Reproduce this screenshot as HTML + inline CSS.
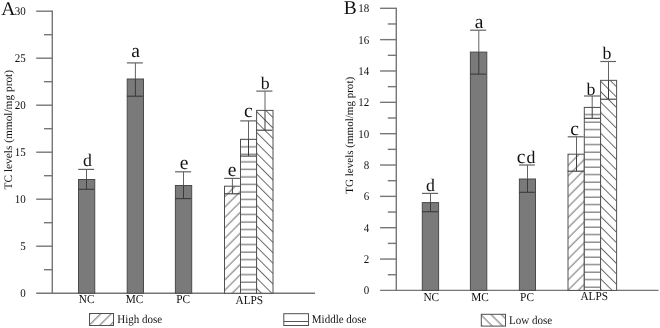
<!DOCTYPE html><html><head><meta charset="utf-8"><style>
html,body{margin:0;padding:0;background:#fff;width:660px;height:328px;overflow:hidden}
svg{display:block;will-change:transform}
text{font-family:"Liberation Serif", serif;fill:#111;text-rendering:geometricPrecision}
</style></head><body>
<svg width="660" height="328" viewBox="0 0 660 328">
<defs>
<pattern id="fwd" patternUnits="userSpaceOnUse" width="7.354" height="20" patternTransform="rotate(45)">
<line x1="3.82" y1="0" x2="3.82" y2="20" stroke="#555" stroke-width="0.9"/></pattern>
<pattern id="bwd" patternUnits="userSpaceOnUse" width="7.354" height="20" patternTransform="rotate(-45)">
<line x1="6.93" y1="0" x2="6.93" y2="20" stroke="#555" stroke-width="0.9"/><line x1="-0.424" y1="0" x2="-0.424" y2="20" stroke="#555" stroke-width="0.9"/></pattern>
<pattern id="horA" patternUnits="userSpaceOnUse" width="20" height="7.52">
<line x1="0" y1="3.92" x2="20" y2="3.92" stroke="#555" stroke-width="1"/></pattern>
<pattern id="horB" patternUnits="userSpaceOnUse" width="20" height="7.5">
<line x1="0" y1="2.1" x2="20" y2="2.1" stroke="#555" stroke-width="1"/></pattern>
<pattern id="fwdL" patternUnits="userSpaceOnUse" width="7.425" height="20" patternTransform="rotate(45)">
<line x1="3.53" y1="0" x2="3.53" y2="20" stroke="#555" stroke-width="0.9"/></pattern>
<pattern id="bwdL" patternUnits="userSpaceOnUse" width="7.283" height="20" patternTransform="rotate(-45)">
<line x1="0.99" y1="0" x2="0.99" y2="20" stroke="#555" stroke-width="0.9"/></pattern>
</defs>
<rect width="660" height="328" fill="#fff"/>

<line x1="52.3" y1="10.6" x2="52.3" y2="293.2" stroke="#767676" stroke-width="1.4"/>
<line x1="36.2" y1="293.2" x2="315" y2="293.2" stroke="#767676" stroke-width="1.4"/>
<text transform="translate(25.8,297.10) scale(1,1.07)" text-anchor="end" font-size="11">0</text>
<line x1="44" y1="269.70" x2="52.3" y2="269.70" stroke="#767676" stroke-width="1.4"/>
<line x1="36.2" y1="246.20" x2="52.3" y2="246.20" stroke="#767676" stroke-width="1.4"/>
<text transform="translate(25.8,250.10) scale(1,1.07)" text-anchor="end" font-size="11">5</text>
<line x1="44" y1="222.70" x2="52.3" y2="222.70" stroke="#767676" stroke-width="1.4"/>
<line x1="36.2" y1="199.20" x2="52.3" y2="199.20" stroke="#767676" stroke-width="1.4"/>
<text transform="translate(25.8,203.10) scale(1,1.07)" text-anchor="end" font-size="11">10</text>
<line x1="44" y1="175.70" x2="52.3" y2="175.70" stroke="#767676" stroke-width="1.4"/>
<line x1="36.2" y1="152.20" x2="52.3" y2="152.20" stroke="#767676" stroke-width="1.4"/>
<text transform="translate(25.8,156.10) scale(1,1.07)" text-anchor="end" font-size="11">15</text>
<line x1="44" y1="128.70" x2="52.3" y2="128.70" stroke="#767676" stroke-width="1.4"/>
<line x1="36.2" y1="105.20" x2="52.3" y2="105.20" stroke="#767676" stroke-width="1.4"/>
<text transform="translate(25.8,109.10) scale(1,1.07)" text-anchor="end" font-size="11">20</text>
<line x1="44" y1="81.70" x2="52.3" y2="81.70" stroke="#767676" stroke-width="1.4"/>
<line x1="36.2" y1="58.20" x2="52.3" y2="58.20" stroke="#767676" stroke-width="1.4"/>
<text transform="translate(25.8,62.10) scale(1,1.07)" text-anchor="end" font-size="11">25</text>
<line x1="44" y1="34.70" x2="52.3" y2="34.70" stroke="#767676" stroke-width="1.4"/>
<line x1="36.2" y1="11.20" x2="52.3" y2="11.20" stroke="#767676" stroke-width="1.4"/>
<text transform="translate(25.8,15.10) scale(1,1.07)" text-anchor="end" font-size="11">30</text>
<text transform="translate(11.8,129.7) rotate(-90)" text-anchor="middle" font-size="11.35">TC levels (mmol/mg prot)</text>
<text x="1.2" y="15.2" font-size="19.5">A</text>
<line x1="396.3" y1="7.700000000000001" x2="396.3" y2="290.4" stroke="#767676" stroke-width="1.4"/>
<line x1="380.1" y1="290.4" x2="658.5" y2="290.4" stroke="#767676" stroke-width="1.4"/>
<text transform="translate(369.3,294.30) scale(1,1.07)" text-anchor="end" font-size="11">0</text>
<line x1="387.8" y1="274.73" x2="396.3" y2="274.73" stroke="#767676" stroke-width="1.4"/>
<line x1="380.1" y1="259.06" x2="396.3" y2="259.06" stroke="#767676" stroke-width="1.4"/>
<text transform="translate(369.3,262.96) scale(1,1.07)" text-anchor="end" font-size="11">2</text>
<line x1="387.8" y1="243.38" x2="396.3" y2="243.38" stroke="#767676" stroke-width="1.4"/>
<line x1="380.1" y1="227.71" x2="396.3" y2="227.71" stroke="#767676" stroke-width="1.4"/>
<text transform="translate(369.3,231.61) scale(1,1.07)" text-anchor="end" font-size="11">4</text>
<line x1="387.8" y1="212.04" x2="396.3" y2="212.04" stroke="#767676" stroke-width="1.4"/>
<line x1="380.1" y1="196.37" x2="396.3" y2="196.37" stroke="#767676" stroke-width="1.4"/>
<text transform="translate(369.3,200.27) scale(1,1.07)" text-anchor="end" font-size="11">6</text>
<line x1="387.8" y1="180.69" x2="396.3" y2="180.69" stroke="#767676" stroke-width="1.4"/>
<line x1="380.1" y1="165.02" x2="396.3" y2="165.02" stroke="#767676" stroke-width="1.4"/>
<text transform="translate(369.3,168.92) scale(1,1.07)" text-anchor="end" font-size="11">8</text>
<line x1="387.8" y1="149.35" x2="396.3" y2="149.35" stroke="#767676" stroke-width="1.4"/>
<line x1="380.1" y1="133.68" x2="396.3" y2="133.68" stroke="#767676" stroke-width="1.4"/>
<text transform="translate(369.3,137.58) scale(1,1.07)" text-anchor="end" font-size="11">10</text>
<line x1="387.8" y1="118.01" x2="396.3" y2="118.01" stroke="#767676" stroke-width="1.4"/>
<line x1="380.1" y1="102.33" x2="396.3" y2="102.33" stroke="#767676" stroke-width="1.4"/>
<text transform="translate(369.3,106.23) scale(1,1.07)" text-anchor="end" font-size="11">12</text>
<line x1="387.8" y1="86.66" x2="396.3" y2="86.66" stroke="#767676" stroke-width="1.4"/>
<line x1="380.1" y1="70.99" x2="396.3" y2="70.99" stroke="#767676" stroke-width="1.4"/>
<text transform="translate(369.3,74.89) scale(1,1.07)" text-anchor="end" font-size="11">14</text>
<line x1="387.8" y1="55.32" x2="396.3" y2="55.32" stroke="#767676" stroke-width="1.4"/>
<line x1="380.1" y1="39.64" x2="396.3" y2="39.64" stroke="#767676" stroke-width="1.4"/>
<text transform="translate(369.3,43.54) scale(1,1.07)" text-anchor="end" font-size="11">16</text>
<line x1="387.8" y1="23.97" x2="396.3" y2="23.97" stroke="#767676" stroke-width="1.4"/>
<line x1="380.1" y1="8.30" x2="396.3" y2="8.30" stroke="#767676" stroke-width="1.4"/>
<text transform="translate(369.3,12.20) scale(1,1.07)" text-anchor="end" font-size="11">18</text>
<text transform="translate(352.8,135.3) rotate(-90)" text-anchor="middle" font-size="11.05">TG levels (mmol/mg prot)</text>
<text x="343.7" y="13.8" font-size="19.5">B</text>
<rect x="78.5" y="179.5" width="16.25" height="113.70" fill="#7a7a7a" stroke="#4a4a4a" stroke-width="1"/>
<line x1="86.5" y1="169.4" x2="86.5" y2="179.5" stroke="#636363" stroke-width="1"/>
<line x1="86.5" y1="179.5" x2="86.5" y2="189.3" stroke="#3a3a3a" stroke-width="1"/>
<line x1="78.20" y1="169.4" x2="94.15" y2="169.4" stroke="#636363" stroke-width="1.2"/>
<line x1="78.20" y1="189.3" x2="94.15" y2="189.3" stroke="#3a3a3a" stroke-width="1.1"/>
<rect x="127.2" y="79.0" width="16.30" height="214.20" fill="#7a7a7a" stroke="#4a4a4a" stroke-width="1"/>
<line x1="135.4" y1="62.9" x2="135.4" y2="79.0" stroke="#636363" stroke-width="1"/>
<line x1="135.4" y1="79.0" x2="135.4" y2="96.2" stroke="#3a3a3a" stroke-width="1"/>
<line x1="126.90" y1="62.9" x2="142.90" y2="62.9" stroke="#636363" stroke-width="1.2"/>
<line x1="126.90" y1="96.2" x2="142.90" y2="96.2" stroke="#3a3a3a" stroke-width="1.1"/>
<rect x="175.4" y="185.5" width="16.30" height="107.70" fill="#7a7a7a" stroke="#4a4a4a" stroke-width="1"/>
<line x1="183.5" y1="171.8" x2="183.5" y2="185.5" stroke="#636363" stroke-width="1"/>
<line x1="183.5" y1="185.5" x2="183.5" y2="198.6" stroke="#3a3a3a" stroke-width="1"/>
<line x1="175.10" y1="171.8" x2="191.10" y2="171.8" stroke="#636363" stroke-width="1.2"/>
<line x1="175.10" y1="198.6" x2="191.10" y2="198.6" stroke="#3a3a3a" stroke-width="1.1"/>
<rect x="224.5" y="186.2" width="16.00" height="107.00" fill="#fff"/>
<rect x="224.5" y="186.2" width="16.00" height="107.00" fill="url(#fwd)"/>
<rect x="224.5" y="186.2" width="16.00" height="107.00" fill="none" stroke="#505050" stroke-width="1"/>
<line x1="232.4" y1="178.4" x2="232.4" y2="186.2" stroke="#636363" stroke-width="1"/>
<line x1="232.4" y1="186.2" x2="232.4" y2="193.8" stroke="#3a3a3a" stroke-width="1"/>
<line x1="224.20" y1="178.4" x2="239.90" y2="178.4" stroke="#636363" stroke-width="1.2"/>
<line x1="224.20" y1="193.8" x2="239.90" y2="193.8" stroke="#3a3a3a" stroke-width="1.1"/>
<rect x="240.5" y="139.3" width="16.10" height="153.90" fill="#fff"/>
<rect x="240.5" y="139.3" width="16.10" height="153.90" fill="url(#horA)"/>
<rect x="240.5" y="139.3" width="16.10" height="153.90" fill="none" stroke="#505050" stroke-width="1"/>
<line x1="248.5" y1="120.9" x2="248.5" y2="139.3" stroke="#636363" stroke-width="1"/>
<line x1="248.5" y1="139.3" x2="248.5" y2="156.1" stroke="#3a3a3a" stroke-width="1"/>
<line x1="240.20" y1="120.9" x2="256.00" y2="120.9" stroke="#636363" stroke-width="1.2"/>
<line x1="240.20" y1="156.1" x2="256.00" y2="156.1" stroke="#3a3a3a" stroke-width="1.1"/>
<rect x="256.6" y="110.4" width="16.40" height="182.80" fill="#fff"/>
<rect x="256.6" y="110.4" width="16.40" height="182.80" fill="url(#bwd)"/>
<rect x="256.6" y="110.4" width="16.40" height="182.80" fill="none" stroke="#505050" stroke-width="1"/>
<line x1="265.0" y1="91.1" x2="265.0" y2="110.4" stroke="#636363" stroke-width="1"/>
<line x1="265.0" y1="110.4" x2="265.0" y2="130.2" stroke="#3a3a3a" stroke-width="1"/>
<line x1="256.30" y1="91.1" x2="272.40" y2="91.1" stroke="#636363" stroke-width="1.2"/>
<line x1="256.30" y1="130.2" x2="272.40" y2="130.2" stroke="#3a3a3a" stroke-width="1.1"/>
<rect x="422.3" y="202.6" width="16.30" height="87.80" fill="#7a7a7a" stroke="#4a4a4a" stroke-width="1"/>
<line x1="430.5" y1="193.4" x2="430.5" y2="202.6" stroke="#636363" stroke-width="1"/>
<line x1="430.5" y1="202.6" x2="430.5" y2="211.7" stroke="#3a3a3a" stroke-width="1"/>
<line x1="422.00" y1="193.4" x2="438.00" y2="193.4" stroke="#636363" stroke-width="1.2"/>
<line x1="422.00" y1="211.7" x2="438.00" y2="211.7" stroke="#3a3a3a" stroke-width="1.1"/>
<rect x="470.4" y="52.1" width="16.40" height="238.30" fill="#7a7a7a" stroke="#4a4a4a" stroke-width="1"/>
<line x1="478.8" y1="30.2" x2="478.8" y2="52.1" stroke="#636363" stroke-width="1"/>
<line x1="478.8" y1="52.1" x2="478.8" y2="74.1" stroke="#3a3a3a" stroke-width="1"/>
<line x1="470.10" y1="30.2" x2="486.20" y2="30.2" stroke="#636363" stroke-width="1.2"/>
<line x1="470.10" y1="74.1" x2="486.20" y2="74.1" stroke="#3a3a3a" stroke-width="1.1"/>
<rect x="519.4" y="179.0" width="16.10" height="111.40" fill="#7a7a7a" stroke="#4a4a4a" stroke-width="1"/>
<line x1="527.5" y1="165.0" x2="527.5" y2="179.0" stroke="#636363" stroke-width="1"/>
<line x1="527.5" y1="179.0" x2="527.5" y2="192.3" stroke="#3a3a3a" stroke-width="1"/>
<line x1="519.10" y1="165.0" x2="534.90" y2="165.0" stroke="#636363" stroke-width="1.2"/>
<line x1="519.10" y1="192.3" x2="534.90" y2="192.3" stroke="#3a3a3a" stroke-width="1.1"/>
<rect x="568.0" y="154.2" width="16.30" height="136.20" fill="#fff"/>
<rect x="568.0" y="154.2" width="16.30" height="136.20" fill="url(#fwd)"/>
<rect x="568.0" y="154.2" width="16.30" height="136.20" fill="none" stroke="#505050" stroke-width="1"/>
<line x1="576.5" y1="136.8" x2="576.5" y2="154.2" stroke="#636363" stroke-width="1"/>
<line x1="576.5" y1="154.2" x2="576.5" y2="171.2" stroke="#3a3a3a" stroke-width="1"/>
<line x1="567.70" y1="136.8" x2="583.70" y2="136.8" stroke="#636363" stroke-width="1.2"/>
<line x1="567.70" y1="171.2" x2="583.70" y2="171.2" stroke="#3a3a3a" stroke-width="1.1"/>
<rect x="584.3" y="107.4" width="16.30" height="183.00" fill="#fff"/>
<rect x="584.3" y="107.4" width="16.30" height="183.00" fill="url(#horB)"/>
<rect x="584.3" y="107.4" width="16.30" height="183.00" fill="none" stroke="#505050" stroke-width="1"/>
<line x1="592.2" y1="96.0" x2="592.2" y2="107.4" stroke="#636363" stroke-width="1"/>
<line x1="592.2" y1="107.4" x2="592.2" y2="118.3" stroke="#3a3a3a" stroke-width="1"/>
<line x1="584.00" y1="96.0" x2="600.00" y2="96.0" stroke="#636363" stroke-width="1.2"/>
<line x1="584.00" y1="118.3" x2="600.00" y2="118.3" stroke="#3a3a3a" stroke-width="1.1"/>
<rect x="600.6" y="80.35" width="16.00" height="210.05" fill="#fff"/>
<rect x="600.6" y="80.35" width="16.00" height="210.05" fill="url(#bwd)"/>
<rect x="600.6" y="80.35" width="16.00" height="210.05" fill="none" stroke="#505050" stroke-width="1"/>
<line x1="608.5" y1="61.5" x2="608.5" y2="80.35" stroke="#636363" stroke-width="1"/>
<line x1="608.5" y1="80.35" x2="608.5" y2="99.2" stroke="#3a3a3a" stroke-width="1"/>
<line x1="600.30" y1="61.5" x2="616.00" y2="61.5" stroke="#636363" stroke-width="1.2"/>
<line x1="600.30" y1="99.2" x2="616.00" y2="99.2" stroke="#3a3a3a" stroke-width="1.1"/>
<text x="87.40" y="166.3" text-anchor="middle" font-size="17.8">d</text>
<text x="135.55" y="57.3" text-anchor="middle" font-size="19.5">a</text>
<text x="184.00" y="169.3" text-anchor="middle" font-size="19.5">e</text>
<text x="232.00" y="175.6" text-anchor="middle" font-size="19.5">e</text>
<text x="248.40" y="117.1" text-anchor="middle" font-size="19.5">c</text>
<text x="265.15" y="88.6" text-anchor="middle" font-size="17.8">b</text>
<text x="430.55" y="190.6" text-anchor="middle" font-size="17.8">d</text>
<text x="479.00" y="28.3" text-anchor="middle" font-size="19.5">a</text>
<text x="521.00" y="162.5" text-anchor="middle" font-size="19.5">c</text>
<text x="530.85" y="162.5" text-anchor="middle" font-size="17.8">d</text>
<text x="574.65" y="135.3" text-anchor="middle" font-size="19.5">c</text>
<text x="590.90" y="94.6" text-anchor="middle" font-size="17.8">b</text>
<text x="606.95" y="58.8" text-anchor="middle" font-size="17.8">b</text>
<text transform="translate(86.6,303.2) scale(1,1.07)" text-anchor="middle" font-size="11.3">NC</text>
<text transform="translate(134.6,303.2) scale(1,1.07)" text-anchor="middle" font-size="11.3">MC</text>
<text transform="translate(183.1,303.2) scale(1,1.07)" text-anchor="middle" font-size="11.3">PC</text>
<text transform="translate(249.3,303.8) scale(1,1.07)" text-anchor="middle" font-size="11.3">ALPS</text>
<text transform="translate(431.3,301) scale(1,1.07)" text-anchor="middle" font-size="11.3">NC</text>
<text transform="translate(480.1,301) scale(1,1.07)" text-anchor="middle" font-size="11.3">MC</text>
<text transform="translate(527,301) scale(1,1.07)" text-anchor="middle" font-size="11.3">PC</text>
<text transform="translate(594.2,300.2) scale(1,1.07)" text-anchor="middle" font-size="11.3">ALPS</text>
<rect x="89.5" y="313.5" width="24.00" height="12.00" fill="#fff"/>
<rect x="89.5" y="313.5" width="24.00" height="12.00" fill="url(#fwdL)"/>
<rect x="89.5" y="313.5" width="24.00" height="12.00" fill="none" stroke="#505050" stroke-width="1"/>
<rect x="283.8" y="313.7" width="24.70" height="11.80" fill="#fff"/>
<line x1="283.8" y1="321.5" x2="308.5" y2="321.5" stroke="#555" stroke-width="1"/>
<rect x="283.8" y="313.7" width="24.70" height="11.80" fill="none" stroke="#505050" stroke-width="1"/>
<rect x="481.3" y="314.3" width="24.20" height="11.80" fill="#fff"/>
<rect x="481.3" y="314.3" width="24.20" height="11.80" fill="url(#bwdL)"/>
<rect x="481.3" y="314.3" width="24.20" height="11.80" fill="none" stroke="#505050" stroke-width="1"/>
<text transform="translate(117.3,322.8) scale(1,1.07)" font-size="11">High dose</text>
<text transform="translate(311.8,322.6) scale(1,1.07)" font-size="11">Middle dose</text>
<text transform="translate(509,323.6) scale(1,1.07)" font-size="11">Low dose</text>
</svg></body></html>
